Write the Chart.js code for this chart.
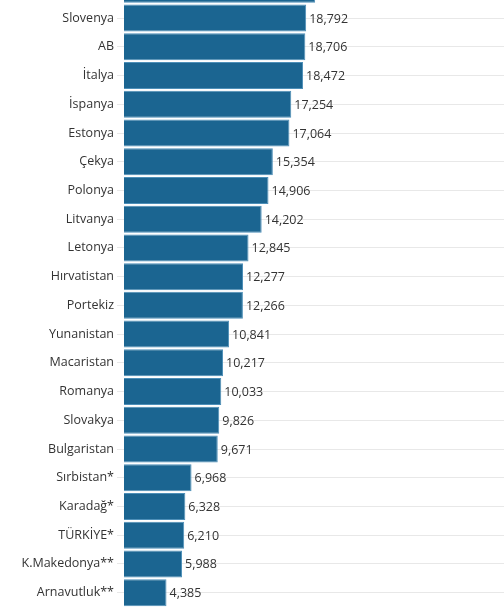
<!DOCTYPE html>
<html>
<head>
<meta charset="utf-8">
<script src="https://cdn.jsdelivr.net/npm/chart.js@4.4.1/dist/chart.umd.min.js"></script>
<style>
  html, body { margin: 0; padding: 0; background: #fff; overflow: hidden; }
  #wrap { position: absolute; left: 0; top: -25px; width: 504px; height: 632px; }
</style>
</head>
<body>
<div id="wrap"><canvas id="chart"></canvas></div>
<script>
/* data (top bar is cut off in the original) */
const countries = [
  'Malta', 'Slovenya', 'AB', 'İtalya', 'İspanya', 'Estonya', 'Çekya', 'Polonya',
  'Litvanya', 'Letonya', 'Hırvatistan', 'Portekiz', 'Yunanistan', 'Macaristan',
  'Romanya', 'Slovakya', 'Bulgaristan', 'Sırbistan*', 'Karadağ*', 'TÜRKİYE*',
  'K.Makedonya**', 'Arnavutluk**'
];
const values = [
  19720, 18792, 18706, 18472, 17254, 17064, 15354, 14906,
  14202, 12845, 12277, 12266, 10841, 10217,
  10033, 9826, 9671, 6968, 6328, 6210,
  5988, 4385
];
const xMax = 39200;

const BAR_COLOR = '#1b6591';
const TEXT_COLOR = '#333333';
const FONT = "'Open Sans', sans-serif";

/* value labels at the end of each bar */
const valueLabels = {
  id: 'valueLabels',
  afterDatasetsDraw(chart) {
    const { ctx } = chart;
    const meta = chart.getDatasetMeta(0);
    ctx.save();
    ctx.font = '12.5px ' + FONT;
    ctx.fillStyle = TEXT_COLOR;
    ctx.textAlign = 'left';
    ctx.textBaseline = 'middle';
    meta.data.forEach((bar, i) => {
      ctx.fillText(values[i].toLocaleString('en-US'), bar.x + 3, bar.y + 1);
    });
    ctx.restore();
  }
};

new Chart(document.getElementById('chart'), {
  type: 'bar',
  data: {
    labels: countries,
    datasets: [{
      data: values,
      backgroundColor: BAR_COLOR,
      borderColor: '#4d8fb8',
      borderWidth: 1,
      barPercentage: 0.94,
      categoryPercentage: 1
    }]
  },
  options: {
    indexAxis: 'y',
    responsive: true,
    maintainAspectRatio: false,
    animation: false,
    layout: { padding: 0 },
    scales: {
      x: { display: false, min: 0, max: xMax },
      y: {
        afterFit(scale) {
          scale.width = 124;
          scale.paddingTop = 0;
          scale.paddingBottom = 0;
        },
        border: { display: false },
        grid: { offset: false, color: '#e8e8e8', tickLength: 7 },
        ticks: { color: TEXT_COLOR, font: { family: FONT, size: 12.5 }, padding: 3 }
      }
    },
    plugins: {
      legend: { display: false },
      tooltip: { enabled: false }
    }
  },
  plugins: [valueLabels]
});
</script>
</body>
</html>
